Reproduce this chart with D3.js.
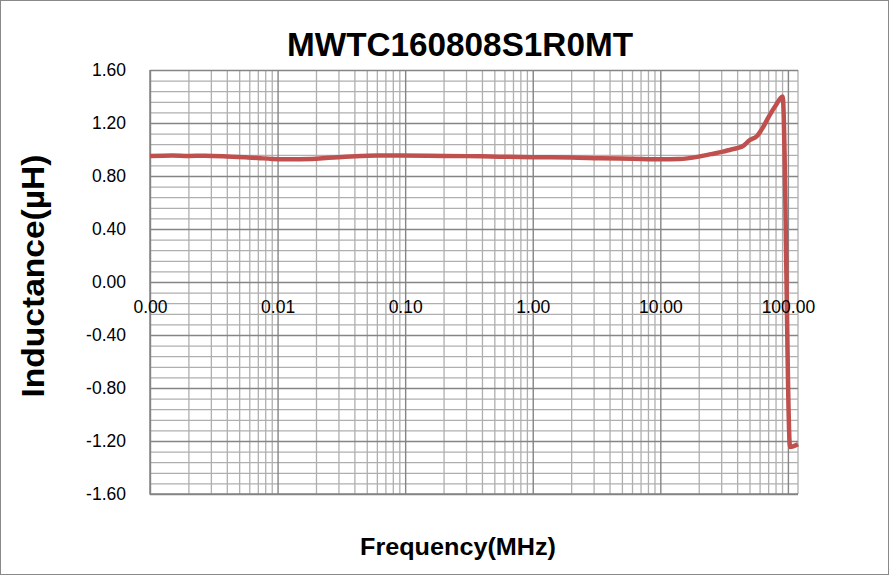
<!DOCTYPE html>
<html>
<head>
<meta charset="utf-8">
<script src="https://cdn.jsdelivr.net/npm/d3@7"></script>
<style>
  html, body { margin: 0; padding: 0; background: #fff; }
  svg { display: block; }
</style>
</head>
<body>
<svg id="chart" width="889" height="575"></svg>
<script>
// ---- data ----
const chartTitle = "MWTC160808S1R0MT";
const xTitle = "Frequency(MHz)";
const yTitle = "Inductance(µH)";
const frequencyMHz = [0.001, 0.0015, 0.002, 0.0027, 0.004, 0.0056, 0.007, 0.009, 0.012, 0.0186,
  0.025, 0.034, 0.045, 0.061, 0.09, 0.15, 0.3, 0.55, 1, 2, 3.4, 6, 10, 14, 20, 25, 31, 36,
  40, 45, 50, 57, 64, 72, 80, 91, 104, 120];
const inductanceUH = [0.951, 0.955, 0.951, 0.953, 0.948, 0.941, 0.936, 0.929, 0.927, 0.929,
  0.938, 0.946, 0.951, 0.954, 0.954, 0.952, 0.950, 0.946, 0.942, 0.940, 0.934, 0.930, 0.926, 0.928,
  0.946, 0.965, 0.984, 1.000, 1.010, 1.030, 1.070, 1.100, 1.170, 1.260, 1.330, 1.400, -1.245, -1.225];
const xDomain = [0.001, 120];
const xMajorTicks = [0.001, 0.01, 0.1, 1, 10, 100];
const yDomain = [-1.6, 1.6];
const yMajorTicks = [-1.6, -1.2, -0.8, -0.4, 0, 0.4, 0.8, 1.2, 1.6];

// ---- layout ----
const W = 889, H = 575;
const plot = { left: 150, right: 798, top: 70, bottom: 494 };
const svg = d3.select("#chart");

const loc = d3.formatLocale({ decimal: ".", thousands: ",", grouping: [3], currency: ["", ""], minus: "-" });
const fmt = loc.format(".2f");

const x = d3.scaleLog().domain(xDomain).range([plot.left, plot.right]);
const y = d3.scaleLinear().domain(yDomain).range([plot.bottom, plot.top]);

// minor tick values
const xMinor = [];
xMajorTicks.forEach(d => { for (let k = 2; k <= 9; k++) { const v = d * k; if (v <= xDomain[1]) xMinor.push(v); } });
const yMinor = d3.range(0, 41).map(i => +(yDomain[0] + i * 0.08).toFixed(2)).filter(v => !yMajorTicks.some(m => Math.abs(m - v) < 1e-6));

// outer border
svg.append("rect").attr("x", 0.5).attr("y", 0.5).attr("width", W - 1).attr("height", H - 1)
  .attr("fill", "#fff").attr("stroke", "#898989").attr("stroke-width", 1);

function grid(axis, tx, ty, color, w) {
  const g = svg.append("g").attr("transform", `translate(${tx},${ty})`).call(axis);
  g.select(".domain").remove();
  g.selectAll("line").attr("stroke", color).attr("stroke-width", w);
  g.selectAll("text").remove();
  return g;
}
const pw = plot.right - plot.left, ph = plot.bottom - plot.top;
// minor grids
grid(d3.axisLeft(y).tickValues(yMinor).tickSize(-pw).tickFormat(""), plot.left, 0, "#afafaf", 1.3);
grid(d3.axisBottom(x).tickValues(xMinor).tickSize(-ph).tickFormat(""), 0, plot.bottom, "#afafaf", 1.3);
// right edge
svg.append("line").attr("x1", plot.right).attr("x2", plot.right).attr("y1", plot.top).attr("y2", plot.bottom)
  .attr("stroke", "#afafaf").attr("stroke-width", 1.3);
// major grids
grid(d3.axisLeft(y).tickValues(yMajorTicks).tickSize(-pw).tickFormat(""), plot.left, 0, "#858585", 1.4);
grid(d3.axisBottom(x).tickValues(xMajorTicks).tickSize(-ph).tickFormat(""), 0, plot.bottom, "#858585", 1.4);
// axis lines
svg.append("line").attr("x1", plot.left).attr("x2", plot.left).attr("y1", plot.top).attr("y2", plot.bottom + 0.7)
  .attr("stroke", "#858585").attr("stroke-width", 1.5);
svg.append("line").attr("x1", plot.left).attr("x2", plot.right).attr("y1", plot.bottom).attr("y2", plot.bottom)
  .attr("stroke", "#858585").attr("stroke-width", 1.5);

// data line
const line = d3.line().x((d, i) => x(frequencyMHz[i])).y(d => y(d)).curve(d3.curveMonotoneX);
svg.append("path").datum(inductanceUH).attr("d", line)
  .attr("fill", "none").attr("stroke", "#c0504d").attr("stroke-width", 4.5).attr("stroke-linejoin", "round");

// tick labels
const font = "'Liberation Sans', Arial, sans-serif";
const yAx = svg.append("g").attr("transform", `translate(${plot.left},0)`)
  .call(d3.axisLeft(y).tickValues(yMajorTicks).tickSize(0).tickPadding(24).tickFormat(fmt));
yAx.select(".domain").remove();
yAx.selectAll("text").attr("font-family", font).attr("font-size", 17.5).attr("fill", "#000");

const xAx = svg.append("g").attr("transform", `translate(0,${y(0)})`)
  .call(d3.axisBottom(x).tickValues(xMajorTicks).tickSize(0).tickPadding(19).tickFormat(fmt));
xAx.select(".domain").remove();
xAx.selectAll("text").attr("font-family", font).attr("font-size", 17.5).attr("fill", "#000");

// titles
svg.append("text").attr("x", 460).attr("y", 56).attr("text-anchor", "middle")
  .attr("font-family", font).attr("font-weight", "bold").attr("font-size", 34)
  .attr("textLength", 346).attr("lengthAdjust", "spacingAndGlyphs").text(chartTitle);
svg.append("text").attr("x", 458).attr("y", 555).attr("text-anchor", "middle")
  .attr("font-family", font).attr("font-weight", "bold").attr("font-size", 23)
  .attr("textLength", 196).attr("lengthAdjust", "spacingAndGlyphs").text(xTitle);
svg.append("text").attr("transform", "translate(44,276) rotate(-90)").attr("text-anchor", "middle")
  .attr("font-family", font).attr("font-weight", "bold").attr("font-size", 31)
  .attr("textLength", 243).attr("lengthAdjust", "spacingAndGlyphs").text(yTitle);
</script>
</body>
</html>
